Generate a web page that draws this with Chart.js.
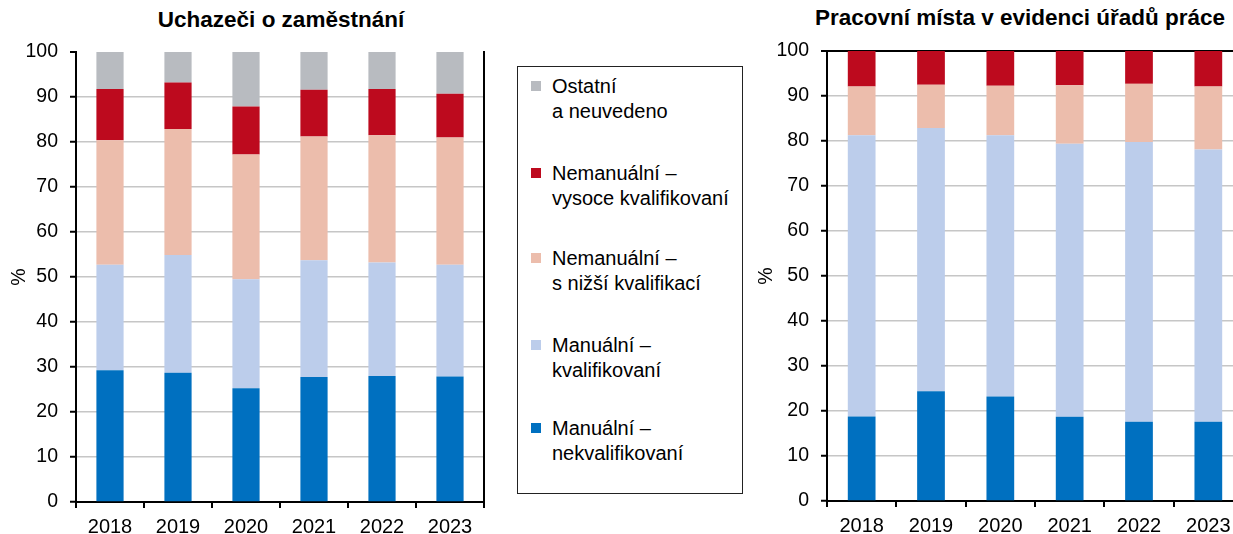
<!DOCTYPE html>
<html lang="cs">
<head>
<meta charset="utf-8">
<script src="https://cdn.jsdelivr.net/npm/chart.js@4.4.1/dist/chart.umd.min.js"></script>
<style>
  html, body { margin: 0; padding: 0; width: 1233px; height: 534px; overflow: hidden; background: #fff; }
  body { position: relative; font-family: "Liberation Sans", Arial, sans-serif; color: #000; }
  canvas { position: absolute; top: 0; }
  .title { position: absolute; font-weight: bold; font-size: 22.5px; line-height: 26px; white-space: nowrap; transform: translateX(-50%); }
  #legend { position: absolute; left: 517px; top: 66px; width: 224px; height: 426px; border: 1px solid #222; }
  .item { position: absolute; left: 13px; font-size: 20px; line-height: 24.5px; }
  .item .sw { position: absolute; left: 0; top: 7px; width: 10px; height: 10px; }
  .item .tx { position: absolute; left: 21px; white-space: nowrap; }
</style>
</head>
<body>
<div class="title" style="left:281px; top:7px;">Uchazeči o zaměstnání</div>
<div class="title" style="left:1020px; top:5px;">Pracovní místa v evidenci úřadů práce</div>
<canvas id="left" width="500" height="534" style="left:0px;"></canvas>
<canvas id="right" width="500" height="534" style="left:750px;"></canvas>
<div id="legend"></div>

<script>
const years = ['2018', '2019', '2020', '2021', '2022', '2023'];

// bottom to top
const seriesNames = [
  'Manuální – nekvalifikovaní',
  'Manuální – kvalifikovaní',
  'Nemanuální – s nižší kvalifikací',
  'Nemanuální – vysoce kvalifikovaní',
  'Ostatní a neuvedeno'
];
const legendLines = [
  ['Manuální –', 'nekvalifikovaní'],
  ['Manuální –', 'kvalifikovaní'],
  ['Nemanuální –', 's nižší kvalifikací'],
  ['Nemanuální –', 'vysoce kvalifikovaní'],
  ['Ostatní', 'a neuvedeno']
];
const seriesColors = ['#0070c0', '#bccdeb', '#ecbdac', '#bd0a1e', '#b8bbc0'];

// Uchazeči o zaměstnání (%)
const uchNekval = [29.3, 28.7, 25.3, 27.8, 28.0, 27.9];
const uchKval = [23.4, 26.2, 24.2, 25.9, 25.2, 24.8];
const uchNizsi = [27.7, 28.0, 27.7, 27.5, 28.3, 28.3];
const uchVysoce = [11.4, 10.3, 10.7, 10.4, 10.3, 9.7];
const uchOstatni = [8.2, 6.8, 12.1, 8.4, 8.2, 9.3];

// Pracovní místa v evidenci ÚP (%)
const pmNekval = [18.8, 24.4, 23.2, 18.7, 17.6, 17.6];
const pmKval = [62.5, 58.5, 58.1, 60.7, 62.2, 60.5];
const pmNizsi = [10.8, 9.6, 11.0, 13.0, 12.9, 14.0];
const pmVysoce = [7.9, 7.5, 7.7, 7.6, 7.3, 7.9];

const yTicks = [0, 10, 20, 30, 40, 50, 60, 70, 80, 90, 100];

function makeDatasets(values) {
  return values.map((v, i) => ({
    label: seriesNames[i],
    data: v,
    backgroundColor: seriesColors[i],
    borderWidth: 0,
    barPercentage: 0.4,
    categoryPercentage: 1
  }));
}

function makeChart(id, values, cfg) {
  const scales = {
    x: {
      stacked: true,
      offset: true,
      border: { color: '#000', width: 2 },
      grid: { offset: true, drawOnChartArea: false, tickColor: '#000', tickLength: 6, lineWidth: 2 },
      ticks: { color: '#000', font: { family: 'Liberation Sans', size: 20 }, padding: 7, maxRotation: 0 },
      afterFit: s => { s.height = cfg.xHeight; }
    },
    y: {
      stacked: true,
      min: 0,
      max: 100,
      afterBuildTicks: s => { s.ticks = yTicks.map(v => ({ value: v })); },
      border: { color: '#000', width: 2 },
      grid: {
        color: c => c.tick.value === 100 ? cfg.topColor : (c.tick.value === 0 ? 'transparent' : '#c6c6c6'),
        lineWidth: c => c.tick.value === 100 ? 2 : 1.5,
        tickColor: '#000',
        tickLength: 6,
        tickWidth: 2
      },
      ticks: { color: '#000', font: { family: 'Liberation Sans', size: 19.5 }, padding: 12 },
      title: { display: true, text: '%', color: '#000', font: { family: 'Liberation Sans', size: 19.5 }, padding: { top: cfg.titlePad, bottom: 0 } },
      afterFit: s => { s.width = cfg.yWidth; }
    }
  };
  if (cfg.rightBorder) {
    scales.y2 = {
      position: 'right',
      min: 0,
      max: 100,
      border: { color: '#000', width: 2 },
      grid: { drawOnChartArea: false, drawTicks: false },
      ticks: { display: false },
      afterFit: s => { s.width = 0; }
    };
  }
  return new Chart(document.getElementById(id), {
    type: 'bar',
    data: { labels: years, datasets: makeDatasets(values) },
    options: {
      responsive: false,
      animation: false,
      devicePixelRatio: 1,
      layout: { padding: { top: cfg.top, right: cfg.right, left: 0, bottom: 0 } },
      plugins: { legend: { display: false }, tooltip: { enabled: false } },
      scales: scales
    }
  });
}

makeChart('left', [uchNekval, uchKval, uchNizsi, uchVysoce, uchOstatni],
  { top: 52, right: 16, xHeight: 32, yWidth: 76, titlePad: 8, topColor: 'transparent', rightBorder: true });
makeChart('right', [pmNekval, pmKval, pmNizsi, pmVysoce],
  { top: 51, right: 7, xHeight: 33, yWidth: 77, titlePad: 5, topColor: '#000', rightBorder: false });

// legend, top item = last series
const legend = document.getElementById('legend');
const itemTops = [7, 94, 179, 266, 349];
for (let k = 0; k < seriesNames.length; k++) {
  const i = seriesNames.length - 1 - k;
  const item = document.createElement('div');
  item.className = 'item';
  item.style.top = itemTops[k] + 'px';
  item.innerHTML = `<span class="sw" style="background:${seriesColors[i]}"></span>` +
    `<span class="tx">${legendLines[i].join('<br>')}</span>`;
  legend.appendChild(item);
}
</script>
</body>
</html>
